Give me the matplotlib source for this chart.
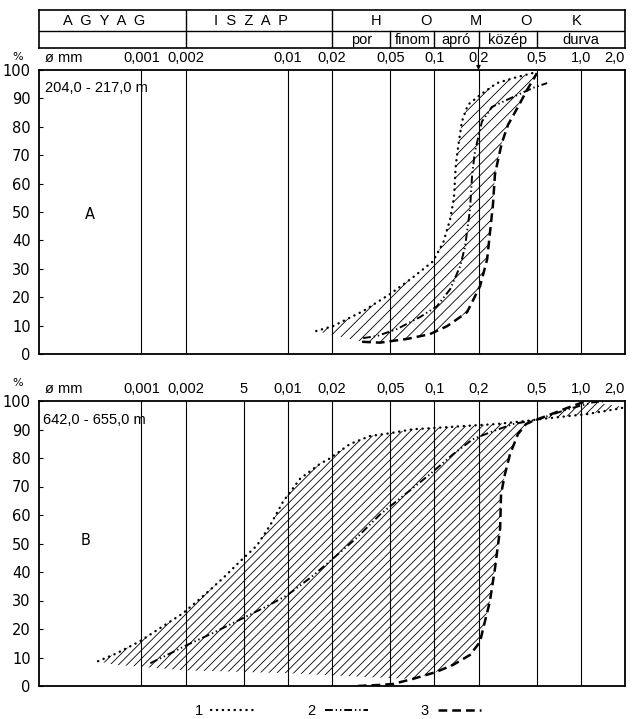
import numpy as np
import matplotlib
matplotlib.use("Agg")
import matplotlib.pyplot as plt
from matplotlib.lines import Line2D

# ---------------- data ----------------
header_main = ["A  G  Y  A  G", "I  S  Z  A  P"]
header_homok = ["H", "O", "M", "O", "K"]
header_sub = ["por", "finom", "apró", "közép", "durva"]
main_bounds = [0.0002, 0.002, 0.02, 2.0]
sand_bounds = [0.02, 0.05, 0.1, 0.2, 0.5, 2.0]

ticks_a = [0.001, 0.002, 0.01, 0.02, 0.05, 0.1, 0.2, 0.5, 1.0, 2.0]
ticklabels_a = ["0,001", "0,002", "0,01", "0,02", "0,05", "0,1", "0,2", "0,5", "1,0", "2,0"]
ticks_b = [0.001, 0.002, 0.005, 0.01, 0.02, 0.05, 0.1, 0.2, 0.5, 1.0, 2.0]
ticklabels_b = ["0,001", "0,002", "5", "0,01", "0,02", "0,05", "0,1", "0,2", "0,5", "1,0", "2,0"]
yticks = list(range(0, 101, 10))

depth_a = "204,0 - 217,0 m"
depth_b = "642,0 - 655,0 m"

# panel A curves (diameter mm, cumulative %)
a1_d = [0.0156, 0.0203, 0.0326, 0.0498, 0.0714, 0.0977, 0.115, 0.128, 0.136, 0.140,
        0.146, 0.154, 0.169, 0.205, 0.267, 0.366, 0.50]
a1_p = [8.1, 9.8, 15.1, 21.1, 27.0, 32.6, 39.3, 47.4, 55.1, 66.7,
        73.7, 81.8, 87.7, 91.2, 95.4, 97.5, 99.3]
a2_d = [0.0326, 0.0405, 0.0556, 0.0798, 0.104, 0.128, 0.150, 0.162, 0.175, 0.181,
        0.189, 0.211, 0.247, 0.313, 0.471, 0.588]
a2_p = [5.6, 6.3, 8.8, 13.0, 16.8, 22.8, 30.9, 37.9, 50.9, 63.2,
        71.2, 81.8, 87.0, 89.5, 93.7, 95.4]
a3_d = [0.0321, 0.0426, 0.065, 0.0933, 0.122, 0.167, 0.205, 0.229, 0.251, 0.259,
        0.272, 0.289, 0.318, 0.372, 0.429, 0.471, 0.501]
a3_p = [4.3, 4.0, 5.3, 7.0, 9.8, 14.7, 23.9, 33.3, 52.6, 63.2,
        68.4, 74.4, 80.7, 87.0, 93.0, 96.5, 98.9]

# panel B curves
b1_d = [0.000506, 0.00068, 0.000977, 0.00134, 0.00192, 0.00263, 0.0036, 0.00471, 0.00615,
        0.00755, 0.00927, 0.0121, 0.0166, 0.0194, 0.0265, 0.0363, 0.0498, 0.0714, 0.0977,
        0.157, 0.263, 0.422, 0.50, 0.615, 1.10, 1.76, 2.0]
b1_p = [8.7, 11.5, 15.7, 20.3, 25.5, 31.5, 37.8, 43.7, 49.3,
        56.3, 64.7, 72.7, 78.0, 79.9, 84.9, 87.7, 88.7, 90.1, 90.5,
        91.2, 91.9, 93.0, 93.5, 94.0, 95.4, 97.2, 97.8]
b2_d = [0.00115, 0.0015, 0.00205, 0.00308, 0.00493, 0.0072, 0.00986, 0.0145, 0.0203,
        0.0292, 0.0426, 0.0582, 0.0933, 0.134, 0.183, 0.251, 0.344, 0.45, 0.50, 0.8, 1.2, 1.5]
b2_p = [8.0, 10.9, 14.4, 18.6, 23.8, 28.0, 31.8, 38.3, 44.7,
        51.8, 60.2, 65.8, 74.3, 81.3, 86.6, 89.4, 91.9, 93.0, 93.4, 97.0, 99.5, 100]
b3_d = [0.03, 0.0431, 0.0521, 0.0714, 0.1026, 0.134, 0.175, 0.205, 0.215, 0.239, 0.259,
        0.281, 0.285, 0.303, 0.328, 0.372, 0.422, 0.471, 0.6, 0.8, 1.0, 1.1]
b3_p = [0.0, 0.4, 0.7, 2.5, 4.9, 7.4, 10.9, 15.5, 20.1, 29.6, 41.2,
        55.3, 67.3, 74.3, 81.3, 88.4, 91.9, 93.0, 95.0, 97.5, 99.3, 100]
# lower edge of the hatched band in B
b_hatch_bottom_d = [0.04, 0.01, 0.002, 0.00065]
b_hatch_bottom_p = [3.0, 4.5, 5.5, 7.5]

legend_labels = ["1", "2", "3"]

# ---------------- style ----------------
NARROW = ["Liberation Sans Narrow", "Liberation Sans", "DejaVu Sans"]
SANS = ["Liberation Sans", "DejaVu Sans"]
plt.rcParams["hatch.linewidth"] = 0.6
plt.rcParams["font.family"] = ["DejaVu Sans"]

ls1 = dict(color="black", lw=1.7, linestyle=(0, (0.1, 2.4)), dash_capstyle="round")
ls2 = dict(color="black", lw=1.4, linestyle=(0, (4, 1.5, 0.7, 1.5, 0.7, 1.5)))
ls3 = dict(color="black", lw=1.8, linestyle=(0, (3.5, 2)))

W, H = 633, 719
fig = plt.figure(figsize=(W / 100, H / 100), dpi=100)
fig.patch.set_facecolor("white")

XL = (2e-4, 2.0)


def fx(px):
    return px / W


def fy(py):
    return 1 - py / H


def setup_panel(ax, ticks, labels, pct_y, hpx):
    ax.set_xscale("log")
    ax.set_xlim(*XL)
    ax.set_ylim(0, 100)
    ax.xaxis.tick_top()
    ax.set_xticks(ticks)
    ax.set_xticklabels(labels, fontfamily=NARROW, fontsize=10.5)
    ax.get_xticklabels()[-1].set_horizontalalignment("right")
    ax.xaxis.set_minor_locator(matplotlib.ticker.NullLocator())
    ax.tick_params(axis="x", length=0, pad=3.5)
    ax.grid(axis="x", color="black", lw=0.8)
    ax.set_yticks(yticks)
    ax.set_yticklabels([str(v) for v in yticks], fontsize=10.5)
    ax.tick_params(axis="y", direction="in", length=3, width=0.8, pad=6)
    for s in ax.spines.values():
        s.set_linewidth(1.3)
    ax.text(0.011, 1 + 4.9 / hpx, "ø mm", transform=ax.transAxes, fontfamily=NARROW,
            fontsize=10.5, ha="left", va="bottom")
    fig.text(fx(18), fy(pct_y), "%", fontsize=8, ha="center", va="center")


def hatch_poly(ax, d, p, pattern):
    ax.fill(d, p, facecolor="none", edgecolor="black", hatch=pattern, linewidth=0)


# ---------------- header ----------------
hdr = fig.add_axes([fx(39), fy(48), fx(586), 38 / H])
hdr.set_xscale("log")
hdr.set_xlim(*XL)
hdr.set_ylim(0, 1)
hdr.set_xticks([])
hdr.set_yticks([])
hdr.xaxis.set_minor_locator(matplotlib.ticker.NullLocator())
for s in hdr.spines.values():
    s.set_linewidth(1.2)
row_div = 17 / 38
hdr.axhline(row_div, color="black", lw=1.0)
for b in main_bounds[1:-1]:
    hdr.axvline(b, color="black", lw=1.0)
for b in sand_bounds[1:-1]:
    hdr.axvline(b, ymax=row_div, color="black", lw=1.0)
for i, name in enumerate(header_main):
    c = np.sqrt(main_bounds[i] * main_bounds[i + 1]) * 0.88
    hdr.text(c, 0.72, name, ha="center", va="center", fontfamily=SANS, fontsize=10.5)
for c, ch in zip(np.logspace(np.log10(0.04), np.log10(0.93), 5), header_homok):
    hdr.text(c, 0.72, ch, ha="center", va="center", fontfamily=SANS, fontsize=10.5)
for i, name in enumerate(header_sub):
    c = np.sqrt(sand_bounds[i] * sand_bounds[i + 1])
    hdr.text(c, 0.21, name, ha="center", va="center", fontfamily=SANS, fontsize=10.5)

# ---------------- panel A ----------------
axA = fig.add_axes([fx(39), fy(354), fx(586), 284 / H])
setup_panel(axA, ticks_a, ticklabels_a, 57, 284)
hatch_poly(axA, a1_d + a3_d[::-1], a1_p + a3_p[::-1], "///")
axA.plot(a1_d, a1_p, **ls1)
axA.plot(a2_d, a2_p, **ls2)
axA.plot(a3_d, a3_p, **ls3)
axA.text(0.01, 0.937, depth_a, transform=axA.transAxes, fontfamily=NARROW,
         fontsize=10.5, ha="left", va="center")
axA.text(0.087, 0.49, "A", transform=axA.transAxes, fontsize=10.5, ha="center", va="center")
axA.annotate("", xy=(0.2, 1.0), xycoords=axA.get_xaxis_transform(),
             xytext=(0.2, 1.0 + 22 / 284), textcoords=axA.get_xaxis_transform(),
             arrowprops=dict(arrowstyle="-|>", color="black", lw=0.8, mutation_scale=6,
                             shrinkA=0, shrinkB=0))

# ---------------- panel B ----------------
axB = fig.add_axes([fx(39), fy(686), fx(586), 285 / H])
setup_panel(axB, ticks_b, ticklabels_b, 383, 285)
sel = [i for i, d in enumerate(b3_d) if d >= 0.07]
poly_d = b1_d + [b3_d[i] for i in sel[::-1]] + b_hatch_bottom_d
poly_p = b1_p + [b3_p[i] for i in sel[::-1]] + b_hatch_bottom_p
hatch_poly(axB, poly_d, poly_p, "////")
axB.plot(b1_d, b1_p, **ls1)
axB.plot(b2_d, b2_p, **ls2)
axB.plot(b3_d, b3_p, **ls3)
axB.text(0.007, 0.933, depth_b, transform=axB.transAxes, fontfamily=NARROW,
         fontsize=10.5, ha="left", va="center")
axB.text(0.079, 0.512, "B", transform=axB.transAxes, fontsize=10.5, ha="center", va="center")

# ---------------- legend ----------------
handles = [Line2D([], [], **ls1), Line2D([], [], **ls2), Line2D([], [], **ls3)]
fig.legend(handles, legend_labels, ncol=3, markerfirst=False, frameon=False,
           loc="center", bbox_to_anchor=(fx(338), fy(711)),
           handlelength=3.0, handletextpad=0.6, columnspacing=3.6,
           prop={"family": NARROW, "size": 10.5})

fig.savefig("out.png", dpi=100, facecolor="white")
